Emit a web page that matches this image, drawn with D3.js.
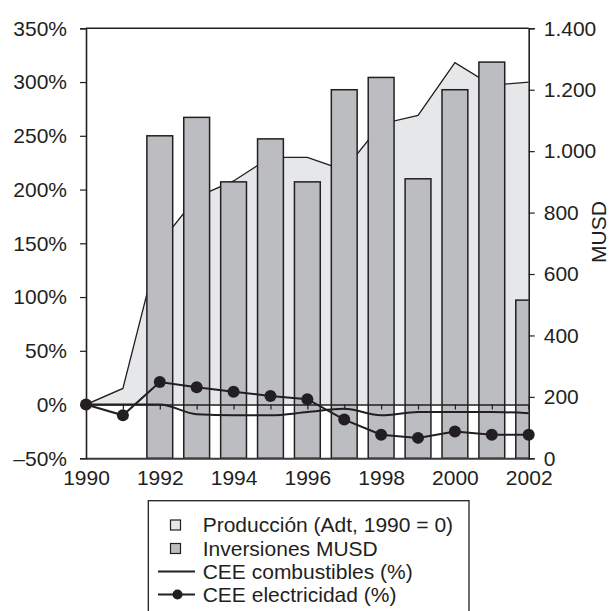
<!DOCTYPE html>
<html>
<head>
<meta charset="utf-8">
<script src="https://cdn.jsdelivr.net/npm/d3@7"></script>
<style>
  html, body { margin: 0; padding: 0; background: #fff; }
  svg text { font-family: "Liberation Sans", Arial, Helvetica, sans-serif; fill: #231f20; }
</style>
</head>
<body>
<svg id="chart" width="611" height="611"></svg>
<script>
// ---- Data ----
const years = [1990, 1991, 1992, 1993, 1994, 1995, 1996, 1997, 1998, 1999, 2000, 2001, 2002];
const produccion = [0, 15, 150, 193, 208, 230, 230, 218, 261, 269, 318, 297, 300];
const invYears = [1992, 1993, 1994, 1995, 1996, 1997, 1998, 1999, 2000, 2001, 2002];
const inversiones = [1050, 1110, 900, 1040, 900, 1200, 1240, 910, 1200, 1290, 515];
const combustibles = [0, 0, 0, -9, -10, -10, -7, -4, -10, -7, -7, -7, -8];
const electricidad = [0, -10, 21, 16, 12, 8, 5, -14, -28, -31, -25, -28, -28];
const leftTicks = [-50, 0, 50, 100, 150, 200, 250, 300, 350];
const rightTicks = [0, 200, 400, 600, 800, 1000, 1200, 1400];
const xLabelYears = [1990, 1992, 1994, 1996, 1998, 2000, 2002];
const legendLabels = ["Producción (Adt, 1990 = 0)", "Inversiones MUSD", "CEE combustibles (%)", "CEE electricidad (%)"];

// ---- Layout ----
const L = 86, R = 528.7, T = 28.3, B = 458.3;
const ink = "#231f20";
const svg = d3.select("#chart");

const x = d3.scaleLinear().domain([1990, 2002]).range([L, R]);
const yL = d3.scaleLinear().domain([-50, 350]).range([B, T]);
const yR = d3.scaleLinear().domain([0, 1400]).range([B, T]);

svg.append("defs").append("clipPath").attr("id", "plotclip")
  .append("rect").attr("x", L).attr("y", T).attr("width", R - L).attr("height", B - T);

const plot = svg.append("g").attr("clip-path", "url(#plotclip)");

// Producción area
const prodData = years.map((y, i) => ({ year: y, v: produccion[i] }));
plot.append("path")
  .datum(prodData)
  .attr("d", d3.area().x(d => x(d.year)).y0(yL(0)).y1(d => yL(d.v)))
  .attr("fill", "#e6e7e8");
plot.append("path")
  .datum(prodData)
  .attr("d", d3.line().x(d => x(d.year)).y(d => yL(d.v)))
  .attr("fill", "none").attr("stroke", ink).attr("stroke-width", 1.3);

// Inversiones bars
const bw = (x(1991) - x(1990)) * 0.7;
plot.selectAll("rect.bar")
  .data(invYears.map((y, i) => ({ year: y, v: inversiones[i] })))
  .enter().append("rect")
  .attr("class", "bar")
  .attr("x", d => x(d.year) - bw / 2)
  .attr("width", bw)
  .attr("y", d => yR(d.v))
  .attr("height", d => yR(0) - yR(d.v))
  .attr("fill", "#bcbdc0")
  .attr("stroke", ink).attr("stroke-width", 1.5);

// Zero line axis with ticks
const xAxisZero = d3.axisBottom(x).tickValues(years).tickSize(5).tickFormat("");
const gz = svg.append("g").attr("transform", `translate(0,${yL(0)})`).call(xAxisZero);
gz.select(".domain").attr("stroke", ink).attr("stroke-width", 1.6);
gz.selectAll(".tick line").attr("stroke", ink).attr("stroke-width", 1.2);

// CEE combustibles
svg.append("path")
  .datum(years.map((y, i) => ({ year: y, v: combustibles[i] })))
  .attr("d", d3.line().x(d => x(d.year)).y(d => yL(d.v)).curve(d3.curveMonotoneX))
  .attr("fill", "none").attr("stroke", ink).attr("stroke-width", 2);

// CEE electricidad
const elecData = years.map((y, i) => ({ year: y, v: electricidad[i] }));
svg.append("path")
  .datum(elecData)
  .attr("d", d3.line().x(d => x(d.year)).y(d => yL(d.v)))
  .attr("fill", "none").attr("stroke", ink).attr("stroke-width", 2);
svg.selectAll("circle.elec")
  .data(elecData).enter().append("circle")
  .attr("class", "elec")
  .attr("cx", d => x(d.year)).attr("cy", d => yL(d.v)).attr("r", 6)
  .attr("fill", ink);

// Frame: top line
svg.append("line").attr("x1", L).attr("x2", R).attr("y1", T).attr("y2", T)
  .attr("stroke", ink).attr("stroke-width", 1.5);

// Bottom axis (labels only at even years)
const xAxis = d3.axisBottom(x).tickValues(xLabelYears).tickSize(0).tickPadding(12).tickFormat(d3.format("d"));
const gx = svg.append("g").attr("transform", `translate(0,${B})`).call(xAxis);
gx.select(".domain").attr("stroke", "#3a3a3a").attr("stroke-width", 2);
gx.selectAll("text").attr("font-size", 21);

// Left axis
const fmtL = d => (d < 0 ? "\u2013" + Math.abs(d) : d) + "%";
const yAxisL = d3.axisLeft(yL).tickValues(leftTicks).tickSize(6).tickPadding(13).tickFormat(fmtL);
const gl = svg.append("g").attr("transform", `translate(${L},0)`).call(yAxisL);
gl.select(".domain").attr("stroke", ink).attr("stroke-width", 1.6);
gl.selectAll(".tick line").attr("stroke", ink).attr("stroke-width", 1.2);
gl.selectAll("text").attr("font-size", 21);

// Right axis
const fmtR = d => d3.formatLocale({ decimal: ",", thousands: ".", grouping: [3], currency: ["", ""] }).format(",d")(d);
const yAxisR = d3.axisRight(yR).tickValues(rightTicks).tickSize(6).tickPadding(9).tickFormat(fmtR);
const gr = svg.append("g").attr("transform", `translate(${R},0)`).call(yAxisR);
gr.select(".domain").attr("stroke", ink).attr("stroke-width", 1.6);
gr.selectAll(".tick line").attr("stroke", ink).attr("stroke-width", 1.2);
gr.selectAll("text").attr("font-size", 21);

// Right axis title
svg.append("text")
  .attr("transform", "translate(606,232) rotate(-90)")
  .attr("text-anchor", "middle")
  .attr("font-size", 21)
  .text("MUSD");

// Legend
const lg = svg.append("g");
lg.append("rect").attr("x", 148.3).attr("y", 500.7).attr("width", 320.7).attr("height", 130)
  .attr("fill", "#fff").attr("stroke", ink).attr("stroke-width", 1.3);
const rowY = [525, 548.5, 571.5, 594.5];
const textX = 202.7;
lg.append("rect").attr("x", 170.5).attr("y", rowY[0] - 5).attr("width", 10).attr("height", 10)
  .attr("fill", "#e6e7e8").attr("stroke", ink).attr("stroke-width", 1.2);
lg.append("rect").attr("x", 170.5).attr("y", rowY[1] - 5).attr("width", 10).attr("height", 10)
  .attr("fill", "#bcbdc0").attr("stroke", ink).attr("stroke-width", 1.2);
lg.append("line").attr("x1", 158).attr("x2", 195).attr("y1", rowY[2]).attr("y2", rowY[2])
  .attr("stroke", ink).attr("stroke-width", 2);
lg.append("line").attr("x1", 158).attr("x2", 195).attr("y1", rowY[3]).attr("y2", rowY[3])
  .attr("stroke", ink).attr("stroke-width", 2);
lg.append("circle").attr("cx", 177.5).attr("cy", rowY[3]).attr("r", 5).attr("fill", ink);
lg.selectAll("text.leg").data(legendLabels).enter().append("text")
  .attr("class", "leg")
  .attr("x", textX).attr("y", (d, i) => rowY[i]).attr("dy", "0.35em")
  .attr("font-size", 21)
  .text(d => d);
</script>
</body>
</html>
